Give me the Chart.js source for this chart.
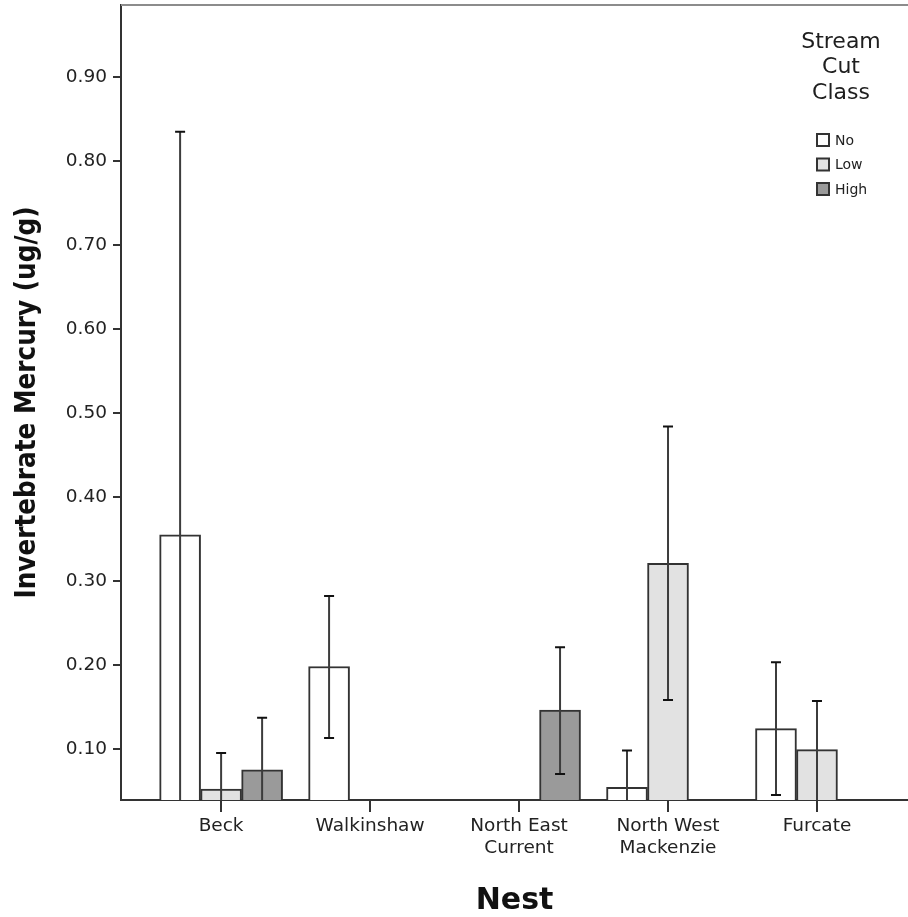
<!DOCTYPE html>
<html>
<head>
<meta charset="utf-8">
<script src="https://cdn.jsdelivr.net/npm/chart.js@4.4.0/dist/chart.umd.min.js"></script>
<style>
  html, body { margin: 0; padding: 0; background: #fff; }
  #wrap { width: 908px; height: 917px; position: relative; }
</style>
</head>
<body>
<div id="wrap"><canvas id="myChart"></canvas></div>
<script>
// nests along the x axis (multi-line labels as arrays)
const nests = [["Beck"], ["Walkinshaw"], ["North East", "Current"], ["North West", "Mackenzie"], ["Furcate"]];
const cutClasses = ["No", "Low", "High"];
const legendTitle = ["Stream", "Cut", "Class"];

// mean mercury per nest, one array per stream cut class
const noMean = [0.355, 0.198, null, 0.054, 0.124];
const lowMean = [0.052, null, null, 0.321, 0.099];
const highMean = [0.075, null, 0.146, null, null];

// error bar ends
const noUpper = [0.835, 0.282, null, 0.098, 0.203];
const noLower = [-0.125, 0.113, null, 0.010, 0.045];
const lowUpper = [0.095, null, null, 0.484, 0.157];
const lowLower = [0.009, null, null, 0.158, 0.036];
const highUpper = [0.137, null, 0.221, null, null];
const highLower = [0.013, null, 0.070, null, null];

const yTicks = [0.1, 0.2, 0.3, 0.4, 0.5, 0.6, 0.7, 0.8, 0.9];

const fills = ["#ffffff", "#e2e2e2", "#9a9a9a"];
const means = [noMean, lowMean, highMean];
const uppers = [noUpper, lowUpper, highUpper];
const lowers = [noLower, lowLower, highLower];

const txtFont = "'DejaVu Sans', sans-serif";

//TODO: error bars drawn on top of the bars, clipped to the plot area
const errorBars = {
  id: "errorBars",
  afterDatasetsDraw(chart) {
    const ctx = chart.ctx;
    const area = chart.chartArea;
    const y = chart.scales.y;
    ctx.save();
    ctx.beginPath();
    ctx.rect(area.left, area.top, area.right - area.left, area.bottom - area.top);
    ctx.clip();
    chart.data.datasets.forEach((ds, i) => {
      const meta = chart.getDatasetMeta(i);
      meta.data.forEach((bar, j) => {
        if (uppers[i][j] == null) return;
        const x = bar.x;
        const yHi = y.getPixelForValue(uppers[i][j]);
        const yLo = y.getPixelForValue(lowers[i][j]);
        ctx.strokeStyle = "#3c3c3c";
        ctx.lineWidth = 2;
        ctx.beginPath();
        ctx.moveTo(x, yHi);
        ctx.lineTo(x, yLo);
        ctx.stroke();
        ctx.strokeStyle = "#111";
        ctx.beginPath();
        ctx.moveTo(x - 5, yHi);
        ctx.lineTo(x + 5, yHi);
        ctx.moveTo(x - 5, yLo);
        ctx.lineTo(x + 5, yLo);
        ctx.stroke();
      });
    });
    ctx.restore();
  },
};

//TODO: top frame line and the stacked legend in the corner
const frameAndLegend = {
  id: "frameAndLegend",
  afterDraw(chart) {
    const ctx = chart.ctx;
    const area = chart.chartArea;
    ctx.save();
    ctx.strokeStyle = "#8c8c8c";
    ctx.lineWidth = 2;
    ctx.beginPath();
    ctx.moveTo(area.left, area.top);
    ctx.lineTo(area.right, area.top);
    ctx.stroke();

    ctx.fillStyle = "#1e1e1e";
    ctx.textAlign = "center";
    ctx.textBaseline = "middle";
    ctx.font = "22px " + txtFont;
    legendTitle.forEach((t, i) => ctx.fillText(t, 841, 42 + i * 25.5));

    ctx.font = "14px " + txtFont;
    ctx.textAlign = "left";
    chart.data.datasets.forEach((ds, i) => {
      const cy = 140 + i * 24.5;
      ctx.fillStyle = ds.backgroundColor;
      ctx.fillRect(817, cy - 6, 12, 12);
      ctx.strokeStyle = "#333";
      ctx.lineWidth = 2;
      ctx.strokeRect(817, cy - 6, 12, 12);
      ctx.fillStyle = "#222";
      ctx.fillText(ds.label, 835, cy + 1);
    });
    ctx.restore();
  },
};

const datasets = cutClasses.map((name, i) => ({
  label: name,
  data: means[i].map((v, j) => ({ x: j + 1, y: v })),
  backgroundColor: fills[i],
  borderColor: "#333",
  borderWidth: 2,
  borderSkipped: false,
  barThickness: 41,
}));

let canvas = document.getElementById("myChart").getContext("2d");
let myChart = new Chart(canvas, {
  type: "bar",
  data: { datasets: datasets },
  plugins: [errorBars, frameAndLegend],
  options: {
    responsive: true,
    maintainAspectRatio: false,
    animation: false,
    layout: { padding: { top: 5, left: 0, right: 0, bottom: 0 } },
    plugins: {
      legend: { display: false },
      tooltip: { enabled: false },
    },
    scales: {
      x: {
        type: "linear",
        offset: false,
        min: 0.328,
        max: 5.611,
        afterBuildTicks: (s) => {
          s.ticks = nests.map((n, i) => ({ value: i + 1 }));
        },
        afterFit: (s) => {
          s.height = 117;
          s.paddingLeft = 0;
          s.paddingRight = 0;
        },
        ticks: {
          autoSkip: false,
          maxRotation: 0,
          padding: 4,
          color: "#222",
          font: { family: txtFont, size: 18.5, lineHeight: 1.15 },
          callback: (v, i) => nests[i],
        },
        grid: {
          offset: false,
          drawOnChartArea: false,
          drawTicks: true,
          tickLength: 12,
          color: "#333",
          lineWidth: 2,
        },
        border: { display: true, color: "#333", width: 2 },
        title: {
          display: true,
          text: "Nest",
          color: "#111",
          font: { family: txtFont, size: 30, weight: "bold", lineHeight: 1 },
          padding: { top: 0, bottom: 1 },
        },
      },
      y: {
        min: 0.039,
        max: 0.986,
        afterBuildTicks: (s) => {
          s.ticks = yTicks.map((v) => ({ value: v }));
        },
        afterFit: (s) => {
          s.width = 121;
          s.paddingTop = 0;
          s.paddingBottom = 0;
        },
        ticks: {
          padding: 6,
          color: "#222",
          font: { family: txtFont, size: 18.5 },
          callback: (v) => v.toFixed(2),
        },
        grid: {
          drawOnChartArea: false,
          drawTicks: true,
          tickLength: 8,
          color: "#333",
          lineWidth: 2,
        },
        border: { display: true, color: "#333", width: 2 },
        title: {
          display: true,
          text: "Invertebrate Mercury (ug/g)",
          color: "#111",
          font: {
            family: "'Liberation Sans Narrow', 'DejaVu Sans Condensed', 'Roboto Condensed', sans-serif",
            size: 27.5,
            weight: "bold",
            lineHeight: 1.2,
          },
          padding: { top: 11, bottom: 0 },
        },
      },
    },
  },
});
</script>
</body>
</html>
